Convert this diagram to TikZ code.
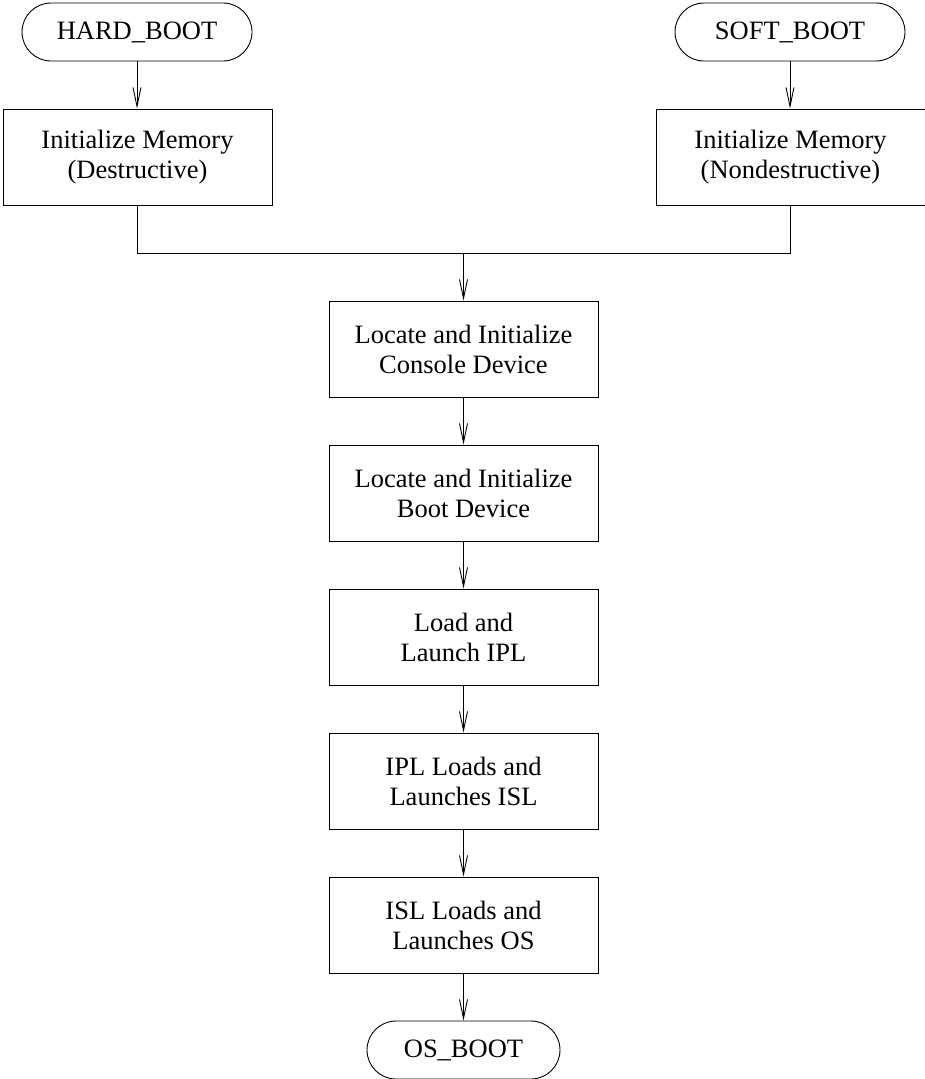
\documentclass[tikz,border=0pt]{standalone}
\usepackage{fontspec}
\setmainfont{Liberation Serif}
\usetikzlibrary{arrows.meta}
\begin{document}
\begin{tikzpicture}[x=1pt,y=-1pt,
  txt/.style={font=\fontsize{26.5}{30}\selectfont},
  proc/.style={draw, line width=0.9pt, minimum width=269pt, minimum height=96pt, align=center, inner sep=0pt, txt},
  term/.style={draw, line width=0.9pt, rounded corners=29pt, minimum height=58pt, inner sep=0pt, txt},
  arr/.style={line width=0.9pt, -{Straight Barb[length=19pt,width=8pt]}},
  lin/.style={line width=0.9pt}]
\useasboundingbox (0,0) rectangle (924,1079);
\node[term, minimum width=230pt] (hard) at (137,32) {HARD\_BOOT};
\node[term, minimum width=230pt] (soft) at (790,32) {SOFT\_BOOT};
\node[proc] (m1) at (137.5,157) {Initialize Memory\\(Destructive)};
\node[proc] (m2) at (790.5,157) {Initialize Memory\\(Nondestructive)};
\coordinate (j) at (463.5,253);
\node[proc] (c) at (463.5,349) {Locate and Initialize\\Console Device};
\node[proc] (b) at (463.5,493) {Locate and Initialize\\Boot Device};
\node[proc] (l) at (463.5,637) {Load and\\Launch IPL};
\node[proc] (i) at (463.5,781) {IPL Loads and\\Launches ISL};
\node[proc] (s) at (463.5,925) {ISL Loads and\\Launches OS};
\node[term, minimum width=193pt] (os) at (463.5,1050) {OS\_BOOT};
\draw[arr] (hard.south) -- (hard.south |- m1.north);
\draw[arr] (soft.south) -- (soft.south |- m2.north);
\draw[lin] (m1.south) |- (j);
\draw[lin] (m2.south) |- (j);
\draw[arr] (j) -- (c);
\draw[arr] (c) -- (b);
\draw[arr] (b) -- (l);
\draw[arr] (l) -- (i);
\draw[arr] (i) -- (s);
\draw[arr] (s) -- (os);
\end{tikzpicture}
\end{document}
